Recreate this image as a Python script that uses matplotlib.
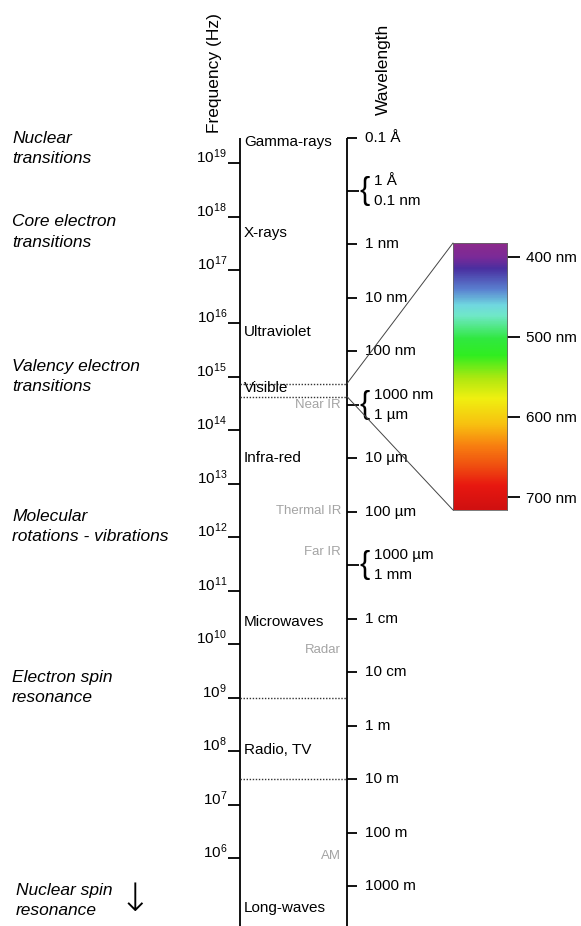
import numpy as np
import matplotlib.pyplot as plt
from matplotlib.colors import LinearSegmentedColormap, Normalize
from matplotlib.patches import ConnectionPatch

plt.rcParams['font.family'] = ['Liberation Sans', 'DejaVu Sans']
plt.rcParams['mathtext.fontset'] = 'custom'
plt.rcParams['mathtext.rm'] = 'Liberation Sans'
plt.rcParams['mathtext.it'] = 'Liberation Sans:italic'

C = 2.998e8  # speed of light, m/s

# frequency axis (Hz, decades)
freq_exponents = list(range(6, 20))

# wavelength axis
wl_ticks_m = [1e-11, 1e-9, 1e-8, 1e-7, 1e-5, 1e-4, 1e-2, 1e-1, 1.0, 10.0, 100.0, 1000.0]
wl_tick_labels = ['0.1 Å', '1 nm', '10 nm', '100 nm', '10 µm', '100 µm',
                  '1 cm', '10 cm', '1 m', '10 m', '100 m', '1000 m']
wl_brace_m = [1e-10, 1e-6, 1e-3]
wl_brace_labels = [('1 Å', '0.1 nm'), ('1000 nm', '1 µm'), ('1000 µm', '1 mm')]

# spectral regions (label, log10 of frequency where the label sits)
band_names = ['Gamma-rays', 'X-rays', 'Ultraviolet', 'Visible', 'Infra-red',
              'Microwaves', 'Radio, TV', 'Long-waves']
band_logf = [19.40, 17.69, 15.84, 14.79, 13.48, 10.42, 8.02, 5.07]

sub_names = ['Near IR', 'Thermal IR', 'Far IR', 'Radar', 'AM']
sub_logf = [14.47, 12.50, 11.73, 9.89, 6.03]

process_names = ['Nuclear\ntransitions', 'Core electron\ntransitions',
                 'Valency electron\ntransitions', 'Molecular\nrotations - vibrations',
                 'Electron spin\nresonance', 'Nuclear spin\nresonance']
process_logf = [19.27, 17.71, 15.00, 12.20, 9.19, 5.21]

# dotted boundaries between regions (Hz)
boundary_freqs = [C / 400e-9, C / 700e-9, 1e9, C / 10.0]

# visible spectrum strip
vis_range_nm = (383, 716)
spec_nm = [383, 400, 414, 440, 460, 473, 502, 523, 552, 577, 610, 636, 661, 686, 716]
spec_colors = ['#8C2A8C', '#7A2A98', '#4A2FA0', '#5A80D0', '#70D8E0', '#70E8C8',
               '#30E840', '#30EE20', '#B0E810', '#F0F010', '#F8C010', '#F88010',
               '#F05010', '#E81810', '#D01010']
spec_ticks_nm = [400, 500, 600, 700]

# layout (x in pixels of the 581 px wide figure)
X_FREQ, X_WL = 240, 347
GRAY = '#A4A4A4'

fig = plt.figure(figsize=(5.81, 9.26), dpi=100)
ax = fig.add_axes([0, 0, 1, 1])
ax.set_xlim(0, 581)
ax.set_yscale('log')
ax.set_ylim(10 ** 4.728, 10 ** 22.05)
ax.axis('off')

f_top = C / wl_ticks_m[0]
f_bottom = 10 ** 4.5

# axis lines
ax.vlines([X_FREQ, X_WL], f_bottom, f_top, color='black', lw=1.3)

# frequency ticks and labels
freqs = [10.0 ** k for k in freq_exponents]
ax.hlines(freqs, X_FREQ - 12, X_FREQ, color='black', lw=1.3)
for k, f in zip(freq_exponents, freqs):
    ax.text(X_FREQ - 13, f, f'$10^{{{k}}}$', ha='right', va='baseline', fontsize=11)

# wavelength ticks and labels
wl_freqs = [C / w for w in wl_ticks_m]
ax.hlines(wl_freqs, X_WL, X_WL + 10, color='black', lw=1.3)
for f, lab in zip(wl_freqs, wl_tick_labels):
    ax.text(X_WL + 18, f, lab, ha='left', va='center', fontsize=11)

for w, (l1, l2) in zip(wl_brace_m, wl_brace_labels):
    f = C / w
    ax.hlines(f, X_WL, X_WL + 12, color='black', lw=1.3)
    ax.text(X_WL + 12, f, '{', ha='left', va='center', fontsize=22)
    ax.annotate(l1, (X_WL + 27, f), xytext=(0, 7), textcoords='offset points',
                ha='left', va='center', fontsize=11)
    ax.annotate(l2, (X_WL + 27, f), xytext=(0, -7), textcoords='offset points',
                ha='left', va='center', fontsize=11)

# region boundaries
ax.hlines(boundary_freqs, X_FREQ, X_WL, color='#333333', lw=1.0,
          linestyles=(0, (1, 1.2)))

# region labels
for name, lf in zip(band_names, band_logf):
    ax.text(X_FREQ + 4, 10 ** lf, name, ha='left', va='center', fontsize=11)
for name, lf in zip(sub_names, sub_logf):
    ax.text(X_WL - 6, 10 ** lf, name, ha='right', va='center', fontsize=9.5,
            color=GRAY)

# processes on the left
for i, (name, lf) in enumerate(zip(process_names, process_logf)):
    x0 = 16 if i == len(process_names) - 1 else 12
    ax.text(x0, 10 ** lf, name, ha='left', va='center', fontsize=12.5,
            style='italic', linespacing=1.42)
ax.text(135, 10 ** process_logf[-1], '↓', ha='center', va='center',
        fontsize=28, family=['DejaVu Sans'], fontweight='light')

# axis titles
ax.text(215, 10 ** 19.56, 'Frequency (Hz)', rotation=90, ha='center',
        va='bottom', fontsize=12.5)
ax.text(383, 10 ** 19.9, 'Wavelength', rotation=90, ha='center',
        va='bottom', fontsize=12.5)

# visible spectrum strip
cax = fig.add_axes([453 / 581, (926 - 510) / 926, 54 / 581, 267 / 926])
lo, hi = vis_range_nm
pos = [(v - lo) / (hi - lo) for v in spec_nm]
cmap = LinearSegmentedColormap.from_list('vis', list(zip(pos, spec_colors)))
strip = np.linspace(lo, hi, 400)[:, None]
cax.imshow(strip, cmap=cmap, norm=Normalize(lo, hi), aspect='auto',
           extent=(0, 1, hi, lo))
cax.set_ylim(hi, lo)
cax.set_xticks([])
cax.set_yticks(spec_ticks_nm)
cax.set_yticklabels([f'{t} nm' for t in spec_ticks_nm])
cax.yaxis.tick_right()
cax.tick_params(axis='y', length=9.5, width=1.3, pad=4, labelsize=11)
for s in cax.spines.values():
    s.set_linewidth(0.6)
    s.set_color('#666666')

# zoom lines from the visible band to the strip
for f_edge, corner in [(C / 400e-9, (0, 1)), (C / 700e-9, (0, 0))]:
    con = ConnectionPatch(xyA=(X_WL, f_edge), coordsA=ax.transData,
                          xyB=corner, coordsB=cax.transAxes,
                          color='#444444', lw=0.7)
    fig.add_artist(con)

fig.savefig('out.png', dpi=100)
